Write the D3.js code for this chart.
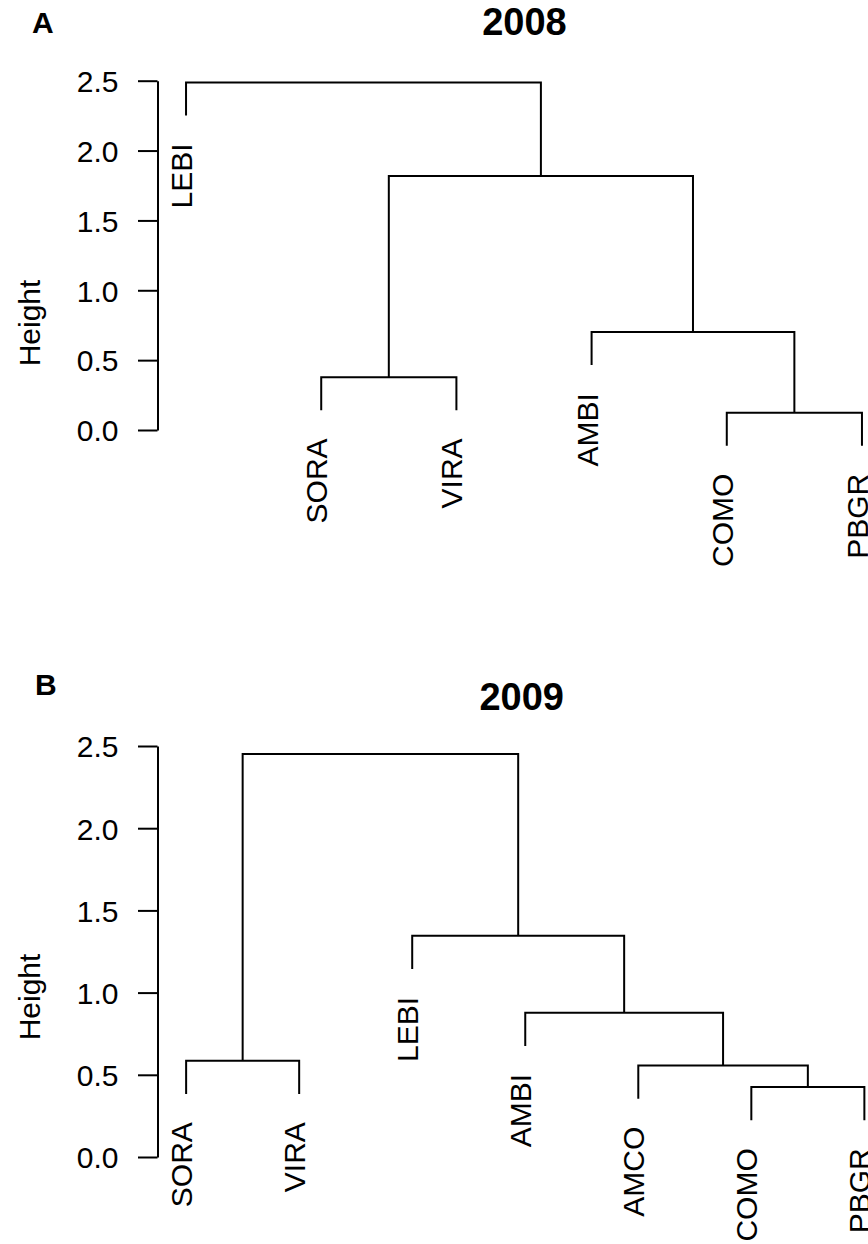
<!DOCTYPE html>
<html>
<head>
<meta charset="utf-8" />
<script src="https://cdn.jsdelivr.net/npm/d3@7"></script>
<style>
  html, body { margin: 0; padding: 0; background: #fff; }
  text { font-family: "Liberation Sans", Arial, Helvetica, sans-serif; fill: #000; }
</style>
</head>
<body>
<svg id="chart" width="868" height="1244"></svg>
<script>
// * leaves in plotted order, R-style merge matrix (negative = leaf, positive = earlier merge)
const leaves2008 = ["LEBI", "SORA", "VIRA", "AMBI", "COMO", "PBGR"];
const merge2008 = [[-5, -6], [-2, -3], [-4, 1], [2, 3], [-1, 4]];
const heights2008 = [0.124, 0.377, 0.701, 1.818, 2.488];

const leaves2009 = ["SORA", "VIRA", "LEBI", "AMBI", "AMCO", "COMO", "PBGR"];
const merge2009 = [[-6, -7], [-5, 1], [-1, -2], [-4, 2], [-3, 4], [3, 5]];
const heights2009 = [0.426, 0.557, 0.585, 0.878, 1.346, 2.451];

const heightTicks = [0, 0.5, 1, 1.5, 2, 2.5];

const svg = d3.select("#chart");
svg.append("rect").attr("width", 868).attr("height", 1244).attr("fill", "#fff");

const drawDendrogram = (panel) => {
  const { leaves, merge, heights } = panel;
  const n = leaves.length;

  // * leaves sit at 1..n, range padded by 4% like base R
  const xScale = d3
    .scaleLinear()
    .domain([1 - 0.04 * (n - 1), n + 0.04 * (n - 1)])
    .range([panel.left, panel.right]);
  const yScale = d3.scaleLinear().domain([0, 2.5]).range([panel.y0, panel.y25]);

  const g = svg.append("g");

  // * hang the leaves below their parent, like plot.hclust(hang = 0.1)
  const hang = 0.1 * (d3.max(heights) - d3.min(heights));

  const nodeX = [];
  const leafBottom = {};
  const posOf = (k) => (k < 0 ? xScale(-k) : nodeX[k - 1]);

  merge.forEach((pair, i) => {
    const h = heights[i];
    const ends = pair.map((k) => {
      if (k < 0) {
        leafBottom[-k] = h - hang;
        return { x: xScale(-k), y: yScale(h - hang) };
      }
      return { x: nodeX[k - 1], y: yScale(heights[k - 1]) };
    });
    nodeX[i] = (posOf(pair[0]) + posOf(pair[1])) / 2;

    g.append("path")
      .attr("d", `M${ends[0].x},${ends[0].y}V${yScale(h)}H${ends[1].x}V${ends[1].y}`)
      .attr("fill", "none")
      .attr("stroke", "#000")
      .attr("stroke-width", 2);
  });

  // * leaf labels, read bottom to top
  g.selectAll("text.leaf")
    .data(leaves)
    .enter()
    .append("text")
    .attr("class", "leaf")
    .attr(
      "transform",
      (d, i) => `translate(${xScale(i + 1)},${yScale(leafBottom[i + 1]) + 28}) rotate(-90)`,
    )
    .attr("text-anchor", "end")
    .attr("dy", "0.2em")
    .style("font-size", "30px")
    .text((d) => d);

  // * y axis
  const axis = g
    .append("g")
    .attr("transform", `translate(${panel.axisX},0)`)
    .call(
      d3
        .axisLeft(yScale)
        .tickValues(heightTicks)
        .tickFormat(d3.format(".1f"))
        .tickSize(19.5)
        .tickSizeOuter(0)
        .tickPadding(19.5),
    );
  axis.select(".domain").attr("stroke", "#000").attr("stroke-width", 2);
  axis.selectAll(".tick line").attr("stroke", "#000").attr("stroke-width", 2);
  axis
    .selectAll(".tick text")
    .attr("fill", "#000")
    .attr("dy", "0.36em")
    .style("font-size", "30px")
    .style("font-family", '"Liberation Sans", Arial, Helvetica, sans-serif');

  g.append("text")
    .attr("transform", `translate(39.5,${panel.ylabY}) rotate(-90)`)
    .attr("text-anchor", "middle")
    .style("font-size", "30px")
    .text("Height");

  g.append("text")
    .attr("x", panel.titleX)
    .attr("y", panel.titleY)
    .attr("text-anchor", "middle")
    .style("font-size", "38px")
    .style("font-weight", "bold")
    .text(panel.title);

  g.append("text")
    .attr("x", panel.tagX)
    .attr("y", panel.tagY)
    .style("font-size", "30px")
    .style("font-weight", "bold")
    .text(panel.tag);
};

drawDendrogram({
  leaves: leaves2008,
  merge: merge2008,
  heights: heights2008,
  left: 159,
  right: 889,
  y0: 430,
  y25: 80.7,
  axisX: 157.5,
  ylabY: 323,
  title: "2008",
  titleX: 524.5,
  titleY: 35,
  tag: "A",
  tagX: 32,
  tagY: 33.3,
});

drawDendrogram({
  leaves: leaves2009,
  merge: merge2009,
  heights: heights2009,
  left: 159,
  right: 891.5,
  y0: 1157,
  y25: 746,
  axisX: 157.5,
  ylabY: 997,
  title: "2009",
  titleX: 521.7,
  titleY: 710,
  tag: "B",
  tagX: 35,
  tagY: 695,
});
</script>
</body>
</html>
